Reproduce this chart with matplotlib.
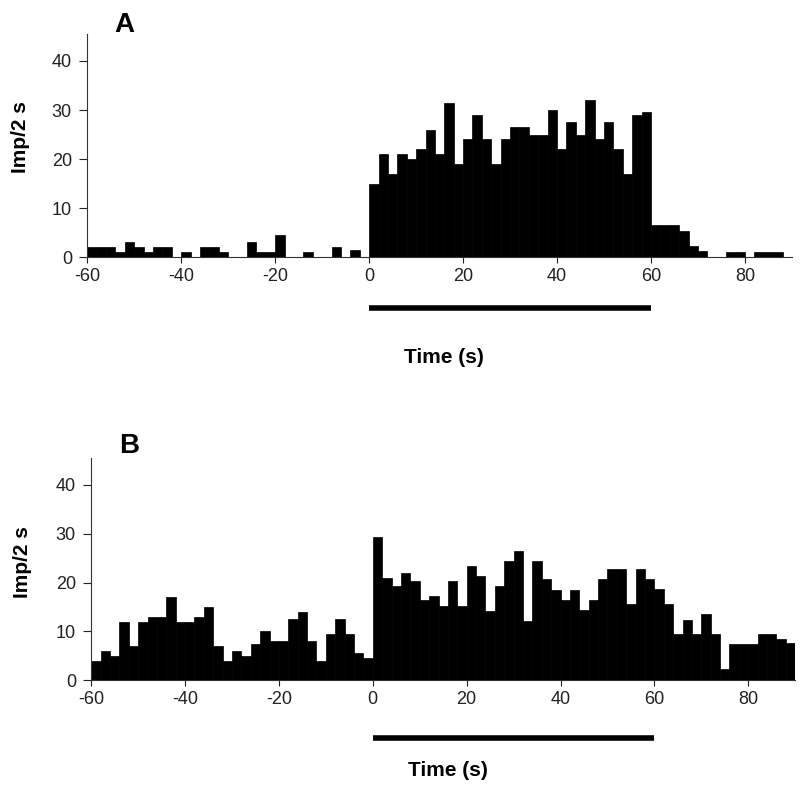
import numpy as np
import matplotlib
matplotlib.use("Agg")
import matplotlib.pyplot as plt

plt.rcParams["font.family"] = ["Liberation Sans", "DejaVu Sans"]
plt.rcParams["axes.unicode_minus"] = False

# 2 s bins from -60 s to 90 s
bin_starts = np.arange(-60, 90, 2)

counts_a = [2, 2, 2, 1, 3, 2, 1, 2, 2, 0,
            1, 0, 2, 2, 1, 0, 0, 3, 1, 1,
            4.5, 0, 0, 1, 0, 0, 2, 0, 1.5, 0,
            15, 21, 17, 21, 20, 22, 26, 21, 31.5, 19,
            24, 29, 24, 19, 24, 26.5, 26.5, 25, 25, 30,
            22, 27.5, 25, 32, 24, 27.5, 22, 17, 29, 29.5,
            6.5, 6.5, 6.5, 5.3, 2.2, 1.2, 0, 0, 1, 1,
            0, 1, 1, 1, 0]

counts_b = [4, 6, 5, 12, 7, 12, 13, 13, 17, 12,
            12, 13, 15, 7, 4, 6, 5, 7.5, 10, 8,
            8, 12.5, 14, 8, 4, 9.5, 12.5, 9.5, 5.5, 4.5,
            29.3, 21, 19.3, 22, 20.3, 16.4, 17.3, 15.3, 20.3, 15.3,
            23.4, 21.4, 14.2, 19.3, 24.4, 26.4, 12.2, 24.4, 20.7, 18.5,
            16.5, 18.5, 14.4, 16.5, 20.7, 22.7, 22.7, 15.6, 22.7, 20.7,
            18.6, 15.6, 9.5, 12.4, 9.5, 13.6, 9.5, 2.4, 7.5, 7.5,
            7.5, 9.5, 9.5, 8.5, 7.7]

xticks = [-60, -40, -20, 0, 20, 40, 60, 80]
yticks = [0, 10, 20, 30, 40]
stim = [0, 60]

fig = plt.figure(figsize=(8, 7.91), dpi=100)
ax_a = fig.add_axes([0.109, 0.675, 0.881, 0.282])
ax_b = fig.add_axes([0.114, 0.140, 0.880, 0.281])

panels = [(ax_a, counts_a, "A", -10.3, -20.4, 47.3, -0.081, 0.538),
          (ax_b, counts_b, "B", -11.8, -18.4, 48.0, -0.084, 0.53)]

for ax, counts, letter, bar_y, lab_y, let_y, ylab_x, ylab_y in panels:
    ax.bar(bin_starts, counts, width=2, align="edge", color="black",
           edgecolor="black", linewidth=0.5)
    ax.set_xlim(-60, 90)
    ax.set_ylim(0, 45.5)
    ax.set_xticks(xticks)
    ax.set_yticks(yticks)
    ax.spines["top"].set_visible(False)
    ax.spines["right"].set_visible(False)
    ax.spines["left"].set_color("#333333")
    ax.spines["bottom"].set_color("#333333")
    ax.tick_params(labelsize=13, width=0.8, colors="#222222")
    ax.tick_params(axis="x", length=4, pad=4)
    ax.tick_params(axis="y", length=6, pad=5)
    ax.set_ylabel("Imp/2 s", fontsize=15, fontweight="bold")
    ax.yaxis.set_label_coords(ylab_x, ylab_y)
    # stimulus bar under the axis
    ax.plot(stim, [bar_y, bar_y], color="black", lw=4, clip_on=False,
            solid_capstyle="butt")
    ax.text(16, lab_y, "Time (s)", fontsize=15, fontweight="bold",
            ha="center", va="center")
    ax.text(-52, let_y, letter, fontsize=20, fontweight="bold",
            ha="center", va="center")

fig.savefig("out.png", dpi=100)
